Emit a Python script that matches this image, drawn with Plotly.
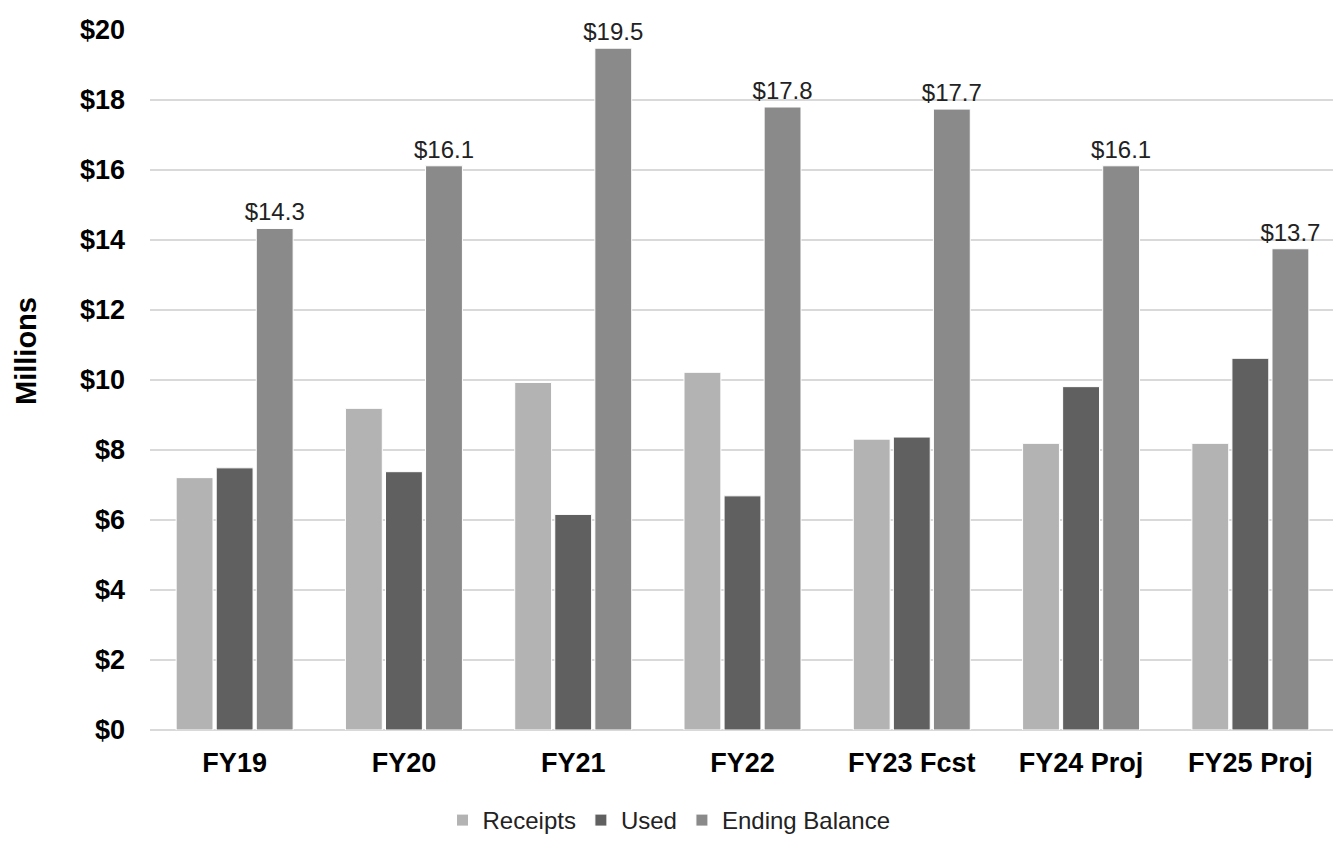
import plotly.graph_objects as go

categories = ["FY19", "FY20", "FY21", "FY22", "FY23 Fcst", "FY24 Proj", "FY25 Proj"]
receipts = [7.21, 9.19, 9.93, 10.22, 8.31, 8.19, 8.19]
used = [7.49, 7.38, 6.16, 6.69, 8.37, 9.81, 10.62]
ending_balance = [14.33, 16.12, 19.48, 17.80, 17.74, 16.12, 13.75]
ending_labels = ["$14.3", "$16.1", "$19.5", "$17.8", "$17.7", "$16.1", "$13.7"]
y_ticks = [0, 2, 4, 6, 8, 10, 12, 14, 16, 18, 20]
y_tick_labels = ["$" + str(v) for v in y_ticks]

FONT = "Liberation Sans, Arial, sans-serif"

fig = go.Figure()
fig.add_trace(go.Bar(name="Receipts", x=categories, y=receipts,
                     marker=dict(color="#b3b3b3", line=dict(color="white", width=1))))
fig.add_trace(go.Bar(name="Used", x=categories, y=used,
                     marker=dict(color="#606060", line=dict(color="white", width=1))))
fig.add_trace(go.Bar(name="Ending Balance", x=categories, y=ending_balance,
                     text=ending_labels, textposition="outside", constraintext="none",
                     textfont=dict(family=FONT, size=24, color="#222222"),
                     cliponaxis=False,
                     marker=dict(color="#8a8a8a", line=dict(color="white", width=1))))

# The page body has an 8px margin, so the figure is 8px smaller than the window.
fig.update_layout(
    width=1333, height=835,
    barmode="group", bargap=0.29, bargroupgap=0.08,
    plot_bgcolor="white", paper_bgcolor="white",
    margin=dict(l=142, r=6, t=22, b=113),
    font=dict(family=FONT, color="black"),
    legend=dict(orientation="h", x=0.438, xanchor="center",
                yref="container", y=-0.02, yanchor="bottom",
                font=dict(family=FONT, size=24, color="#222222"),
                traceorder="normal"),
    xaxis=dict(showgrid=False, showline=False, ticks="", automargin=False,
               tickfont=dict(family=FONT, size=27, color="black", weight="bold"),
               ticklabelstandoff=14),
    yaxis=dict(range=[0, 20], tickvals=y_ticks, ticktext=y_tick_labels,
               showgrid=True, gridcolor="#d9d9d9", gridwidth=1.5,
               zeroline=True, zerolinecolor="#d9d9d9", zerolinewidth=1.5,
               showline=False, ticks="", automargin=False,
               tickfont=dict(family=FONT, size=27, color="black", weight="bold"),
               ticklabelstandoff=24),
    annotations=[dict(text="<b>Millions</b>", textangle=-90, showarrow=False,
                      xref="paper", yref="paper", x=(26 - 150) / 1185, y=(730 - 351) / 700,
                      xanchor="center", yanchor="middle",
                      font=dict(family=FONT, size=29, color="black"))],
)

fig.write_html("out.html")
